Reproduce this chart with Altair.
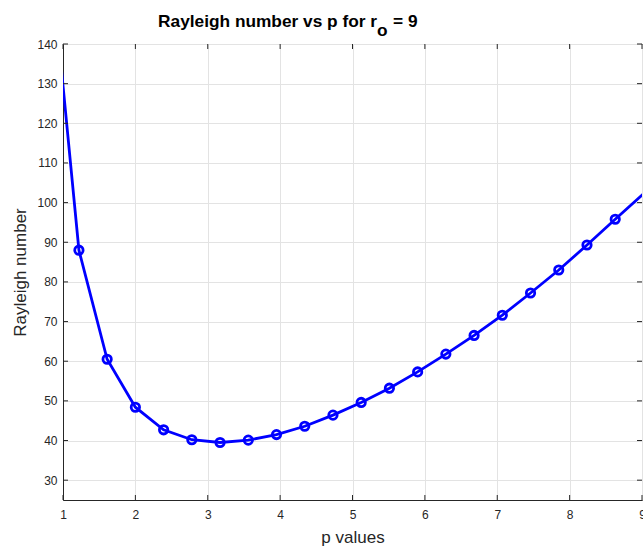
import altair as alt
import pandas as pd

# data (first and last points lie outside the visible x range and get clipped)
p_vals = [0.83, 1.22, 1.61, 2.00, 2.39, 2.78, 3.17, 3.56, 3.95, 4.34, 4.73,
          5.12, 5.51, 5.90, 6.29, 6.68, 7.07, 7.46, 7.85, 8.24, 8.63, 9.02]
ra_vals = [161.6, 88.0, 60.5, 48.4, 42.7, 40.2, 39.5, 40.1, 41.5, 43.6, 46.4,
           49.6, 53.2, 57.3, 61.8, 66.5, 71.6, 77.2, 83.0, 89.3, 95.8, 102.2]

x_ticks = [1, 2, 3, 4, 5, 6, 7, 8, 9]
y_ticks = [30, 40, 50, 60, 70, 80, 90, 100, 110, 120, 130, 140]

title_main = "Rayleigh number vs p for r"
title_sub = "o"
title_tail = "= 9"

W, H = 579, 456
AX = "#262626"
FONT = "Liberation Sans"

df = pd.DataFrame({"p": p_vals, "ra": ra_vals})
xt = pd.DataFrame({"v": x_ticks})
yt = pd.DataFrame({"v": y_ticks})

xscale = alt.Scale(domain=[1, 9], nice=False, zero=False)
yscale = alt.Scale(domain=[25, 140], nice=False, zero=False)

xaxis = alt.Axis(values=x_ticks, format="d", title="p values", grid=True, ticks=False,
                 labelFlush=False, labelPadding=9, labelFontSize=12, labelColor=AX,
                 labelFont=FONT, titleFontSize=17, titleFontWeight="normal",
                 titleColor=AX, titleFont=FONT, titlePadding=9, domainColor=AX,
                 gridColor="#e3e3e3")
yaxis = alt.Axis(values=y_ticks, format="d", title="Rayleigh number", grid=True,
                 ticks=False, labelFlush=False, labelPadding=6, labelFontSize=12,
                 labelColor=AX, labelFont=FONT, titleFontSize=17,
                 titleFontWeight="normal", titleColor=AX, titleFont=FONT,
                 titlePadding=7, domainColor=AX, gridColor="#e3e3e3")

line = alt.Chart(df).mark_line(color="#0000ff", strokeWidth=2.8, clip=True).encode(
    x=alt.X("p:Q", scale=xscale, axis=xaxis),
    y=alt.Y("ra:Q", scale=yscale, axis=yaxis),
)

pts = alt.Chart(df).transform_filter("datum.p >= 1 && datum.p <= 9").mark_point(
    shape="circle", filled=False, color="#0000ff", size=70, strokeWidth=2.8, opacity=1
).encode(x=alt.X("p:Q", scale=xscale), y=alt.Y("ra:Q", scale=yscale))

# inward ticks (MATLAB style)
tb = alt.Chart(xt).mark_rule(color=AX, strokeWidth=1).encode(
    x=alt.X("v:Q", scale=xscale), y=alt.value(H), y2=alt.value(H - 5))
tt = alt.Chart(xt).mark_rule(color=AX, strokeWidth=1).encode(
    x=alt.X("v:Q", scale=xscale), y=alt.value(0), y2=alt.value(5))
tl = alt.Chart(yt).mark_rule(color=AX, strokeWidth=1).encode(
    y=alt.Y("v:Q", scale=yscale), x=alt.value(0), x2=alt.value(5))
tr = alt.Chart(yt).mark_rule(color=AX, strokeWidth=1).encode(
    y=alt.Y("v:Q", scale=yscale), x=alt.value(W), x2=alt.value(W - 5))

# title with subscript
t1 = alt.Chart(pd.DataFrame({"t": [title_main]})).mark_text(
    align="right", baseline="alphabetic", fontSize=17.3, fontWeight="bold",
    font=FONT, color="#000000").encode(text="t:N", x=alt.value(314), y=alt.value(-17))
t2 = alt.Chart(pd.DataFrame({"t": [title_sub]})).mark_text(
    align="left", baseline="alphabetic", fontSize=17.3, fontWeight="bold",
    font=FONT, color="#000000").encode(text="t:N", x=alt.value(314), y=alt.value(-8))
t3 = alt.Chart(pd.DataFrame({"t": [title_tail]})).mark_text(
    align="left", baseline="alphabetic", fontSize=17.3, fontWeight="bold",
    font=FONT, color="#000000").encode(text="t:N", x=alt.value(330), y=alt.value(-17))

chart = alt.layer(line, pts, tb, tt, tl, tr, t1, t2, t3).properties(
    width=W, height=H,
    autosize=alt.AutoSizeParams(type="none"),
    padding={"left": 63, "top": 44, "right": 1, "bottom": 50},
    background="white",
).configure_view(stroke=AX, strokeWidth=1)

chart.save("out.html", embed_options={"renderer": "svg", "actions": False})
